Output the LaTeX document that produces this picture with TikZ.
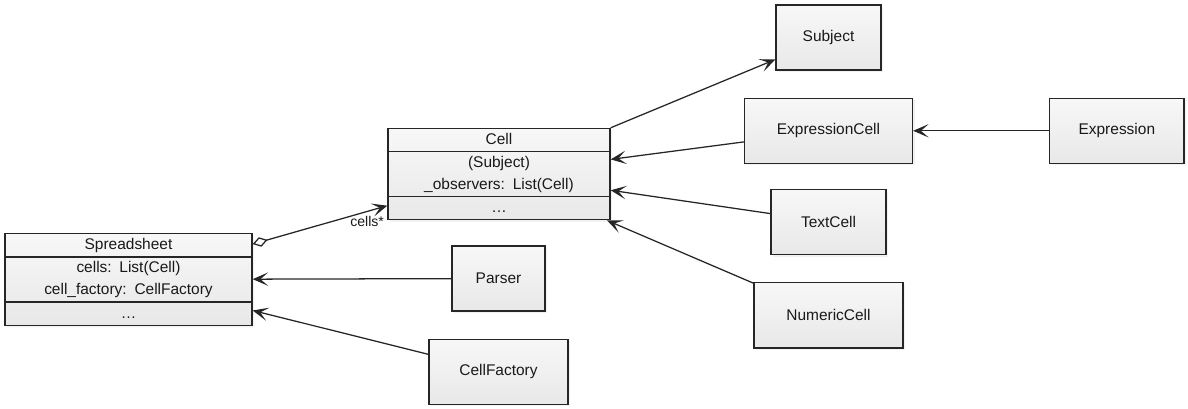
\documentclass[tikz,border=0pt]{standalone}
\usepackage{fontspec}
\setmainfont{Liberation Sans}
\usetikzlibrary{shapes, positioning, arrows.meta, shadows}

\begin{document}
\begin{tikzpicture}[
    x=0.025cm, y=-0.025cm,
    >={Stealth[length=11pt, width=9.5pt, inset=5.5pt]},
    every node/.style={align=center, font=\fontsize{11}{15.6}\selectfont, text=black!90},
    box/.style={draw=black!85, line width=0.9pt, top color=white!97!black, bottom color=black!9,
        drop shadow={opacity=0.1, shadow xshift=1.5pt, shadow yshift=-1.5pt},
        minimum height=1.625cm, inner sep=0pt},
    umlclass/.style={box, rectangle split, rectangle split parts=3},
    arrow/.style={->, line width=0.9pt, black!85}
]
\useasboundingbox (0,0) rectangle (1188,408);

% Cell in der Mitte
\node[umlclass, text width=5.55cm] (cell) at (499,174) {
    \strut Cell
    \nodepart{two}\strut (Subject)\\\strut \_observers: List(Cell)
    \nodepart{three}\strut \ldots
};

% rechts: Subject und Unterklassen
\node[box, minimum width=2.625cm] (subject) at (828.5,37.5) {Subject};
\node[box, minimum width=4.2cm, below=0.675cm of subject] (exprcell) {ExpressionCell};
\node[box, minimum width=2.875cm, below=0.625cm of exprcell] (textcell) {TextCell};
\node[box, minimum width=3.725cm, below=0.675cm of textcell] (numcell) {NumericCell};
\node[box, minimum width=3.35cm, right=3.4cm of exprcell] (expression) {Expression};

\draw[arrow] (cell) -- (subject);
\draw[arrow] (exprcell) -- (cell);
\draw[arrow] (textcell) -- (cell);
\draw[arrow] (numcell) -- (cell);
\draw[arrow] (expression) -- (exprcell);

% links: Spreadsheet
\node[umlclass, text width=6.175cm] (sheet) at (128.5,279.5) {
    \strut Spreadsheet
    \nodepart{two}\strut cells: List(Cell)\\\strut cell\_factory: CellFactory
    \nodepart{three}\strut \ldots
};
\draw[arrow, {Diamond[open, length=11pt, width=7pt]}->] (sheet) --
    node[pos=0.85, below, font=\fontsize{10}{12}\selectfont] {cells*} (cell);

% Parser und CellFactory
\node[box, minimum width=2.325cm] (parser) at (498.5,278.5) {Parser};
\node[box, minimum width=3.475cm, below=0.675cm of parser] (factory) {CellFactory};

\draw[arrow] (parser) -- (sheet);
\draw[arrow] (factory) -- (sheet);

\end{tikzpicture}
\end{document}
